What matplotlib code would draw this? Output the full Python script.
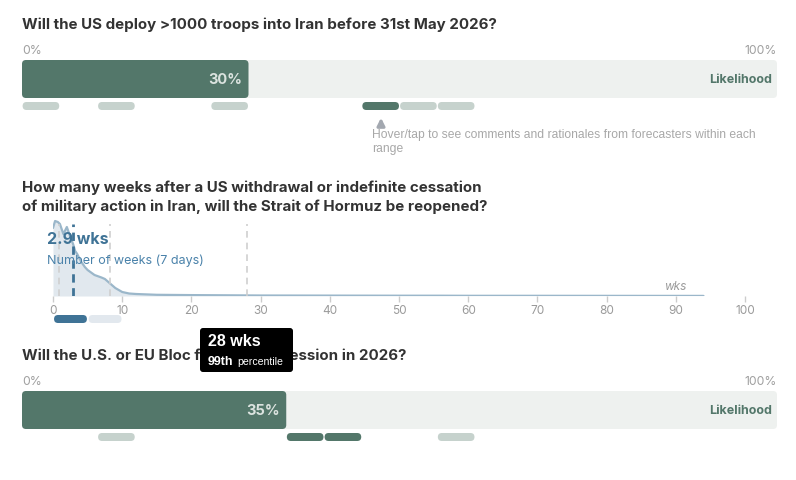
import numpy as np
import matplotlib
matplotlib.use('Agg')
import matplotlib.pyplot as plt
from matplotlib.patches import FancyBboxPatch

plt.rcParams['font.family'] = ['Inter', 'DejaVu Sans']

# ---------------- data ----------------
q1_title = 'Will the US deploy >1000 troops into Iran before 31st May 2026?'
q1_value = 30
q1_bins = [0, 10, 25, 45, 50, 55]      # 5% wide forecast bins that have forecasters
q1_hot = [45]

q2_title = ['How many weeks after a US withdrawal or indefinite cessation',
            'of military action in Iran, will the Strait of Hormuz be reopened?']
q2_median = 2.9
q2_pcts = [0.8, 8.3, 28]
wk_x = [0, 0.3, 0.7, 1.0, 1.5, 2.0, 2.5, 2.9, 3.2, 3.5, 4.0, 4.6, 5.0, 6.0, 7.0,
        7.5, 8.0, 8.5, 9.0, 10, 11, 12, 15, 20, 25, 30, 40, 50, 56, 60, 70, 80, 94]
wk_y = [68, 75, 74, 72, 62, 69, 59, 52, 45, 42, 35, 29, 26, 21, 18.5,
        17, 14, 11, 8, 4, 2.5, 2.0, 1.2, 0.9, 0.7, 0.5, 0.4, 0.3, 0.3, 0.2, 0.2, 0.15, 0.1]
q2_ticks = list(range(0, 101, 10))
q2_bins = [0, 5]
q2_hot = [0]
tip_value = '28 wks'
tip_label = ('99th', 'percentile')

q3_title = 'Will the U.S. or EU Bloc fall into a recession in 2026?'
q3_value = 35
q3_bins = [10, 35, 40, 55]
q3_hot = [35, 40]

hover_text = ['Hover/tap to see comments and rationales from forecasters within each',
              'range']

# ---------------- colours ----------------
GREEN = '#53776a'
BG = '#eef1ef'
PILL = '#c6d2cd'
BLUE = '#3f7396'
BLUE_LINE = '#9bb7ca'
BLUE_FILL = '#e1e8ee'
TITLE = '#333333'
GREY = '#a0a0a0'

W, H = 796, 481
fig = plt.figure(figsize=(W / 100, H / 100), dpi=100)


def px_axes(x0, y0, x1, y1, **kw):
    return fig.add_axes([x0 / W, 1 - y1 / H, (x1 - x0) / W, (y1 - y0) / H], **kw)


def likelihood(y0, value, bins, hot):
    ax = px_axes(22, y0, 777, y0 + 51)
    ax.set_xlim(0, 100)
    ax.set_ylim(51, 0)
    ax.axis('off')
    asp = 755 / 100
    r = 4 / asp
    ax.add_patch(FancyBboxPatch((0, 0), 100, 38, boxstyle=f'round,pad=0,rounding_size={r}',
                                mutation_aspect=asp, fc=BG, ec='none', clip_on=False))
    ax.add_patch(FancyBboxPatch((0, 0), value, 38, boxstyle=f'round,pad=0,rounding_size={r}',
                                mutation_aspect=asp, fc=GREEN, ec='none', clip_on=False))
    ax.text(value - 0.8, 19.5, f'{value}%', ha='right', va='center', color='#dbe3df',
            fontsize=10.5, fontweight='bold')
    ax.text(99.3, 19.5, 'Likelihood', ha='right', va='center', color=GREEN,
            fontsize=9, fontweight='bold')
    for b in bins:
        ax.add_patch(FancyBboxPatch((b + 0.08, 42), 4.85, 8,
                                    boxstyle=f'round,pad=0,rounding_size={r}',
                                    mutation_aspect=asp, fc=GREEN if b in hot else PILL,
                                    ec='none', clip_on=False))
    return ax


# overlay for text / tooltip in pixel units
ov = fig.add_axes([0, 0, 1, 1], zorder=10)
ov.set_xlim(0, W)
ov.set_ylim(H, 0)
ov.axis('off')
ov.patch.set_alpha(0)

# ---------------- question 1 ----------------
ov.text(22, 25, q1_title, fontsize=10.85, fontweight='bold', color=TITLE, va='center')
ov.text(22, 51, '0%', fontsize=8.8, color=GREY, va='center')
ov.text(777, 51, '100%', fontsize=8.8, color=GREY, va='center', ha='right')
likelihood(61, q1_value, q1_bins, q1_hot)
ov.annotate('', xy=(381, 116), xytext=(381, 129),
            arrowprops=dict(arrowstyle='-|>', color='#a3a8b0', lw=2.2, mutation_scale=11))
for i, line in enumerate(hover_text):
    ov.text(372, 135 + 14 * i, line, fontsize=8.7, color='#a8a8a8', va='center',
            family='Liberation Sans')

# ---------------- question 2 ----------------
for i, line in enumerate(q2_title):
    ov.text(22, 188 + 19 * i, line, fontsize=10.85, fontweight='bold', color=TITLE, va='center')

ax2 = px_axes(53, 217, 745, 297)
ax2.set_xlim(0, 100)
ax2.set_ylim(0, 80)
ax2.fill_between(wk_x, wk_y, 0, color=BLUE_FILL, lw=0)
ax2.plot(wk_x, wk_y, color=BLUE_LINE, lw=1.6, solid_capstyle='round')
ax2.vlines(q2_pcts, 0, 72, colors='#cfcfcf', linestyles=(0, (4, 3)), lw=1.2)
ax2.vlines([q2_median], 0, 72, colors=BLUE, linestyles=(0, (3, 2)), lw=2)
for s in ax2.spines.values():
    s.set_visible(False)
ax2.set_yticks([])
ax2.set_xticks(q2_ticks)
ax2.tick_params(axis='x', length=4, width=1, color='#cccccc', labelcolor='#9a9a9a',
                labelsize=8.5, pad=2)
ax2.patch.set_alpha(0)
asp2 = 692 / 100
r2 = 4 / asp2
for b in q2_bins:
    ax2.add_patch(FancyBboxPatch((b + 0.15, -27), 4.75, 8,
                                 boxstyle=f'round,pad=0,rounding_size={r2}',
                                 mutation_aspect=asp2, fc=BLUE if b in q2_hot else '#e2e8ee',
                                 ec='none', clip_on=False))
ax2.text(91.5, 10, 'wks', ha='right', va='center', fontsize=8.5, style='italic', color='#9a9a9a')

ov.text(47, 240, f'{q2_median} wks', fontsize=11.5, fontweight='bold', color=BLUE, va='center')
ov.text(47, 261, 'Number of weeks (7 days)', fontsize=9, color='#4a82aa', va='center')

# ---------------- question 3 ----------------
ov.text(22, 356, q3_title, fontsize=10.85, fontweight='bold', color=TITLE, va='center')
ov.text(22, 382, '0%', fontsize=8.8, color=GREY, va='center')
ov.text(777, 382, '100%', fontsize=8.8, color=GREY, va='center', ha='right')
likelihood(392, q3_value, q3_bins, q3_hot)

# tooltip (covers part of the third title, as in the hover state)
ov.add_patch(FancyBboxPatch((200, 329), 93, 44, boxstyle='round,pad=0,rounding_size=3',
                            fc='black', ec='none', zorder=20))
ov.text(208, 342, tip_value, fontsize=11.5, fontweight='bold', color='white', va='center',
        family='Liberation Sans', zorder=21)
ov.text(208, 362, tip_label[0], fontsize=9, fontweight='bold', color='white', va='center',
        family='Liberation Sans', zorder=21)
ov.text(237, 362.5, tip_label[1], fontsize=7.6, color='white', va='center',
        family='Liberation Sans', zorder=21)

fig.savefig('out.png', dpi=100)
